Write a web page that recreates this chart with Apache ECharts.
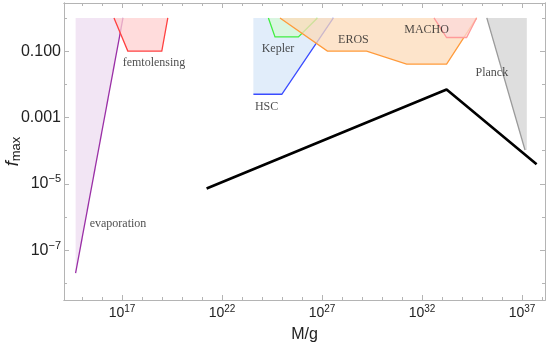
<!DOCTYPE html>
<html>
<head>
<meta charset="utf-8">
<script src="https://cdn.jsdelivr.net/npm/echarts@6/dist/echarts.min.js"></script>
<style>
  html, body { margin: 0; padding: 0; background: #fff; }
  #chart { width: 549px; height: 344px; }
</style>
</head>
<body>
<div id="chart"></div>
<script>
// all values are log10: mass in grams, f_max
const xMin = 14.1
const xMax = 38.15
const yMin = -8.5
const yMax = 0.45

const xMajorTicks = [17, 22, 27, 32, 37]
const xMinorTicks = [15, 16, 18, 19, 20, 21, 23, 24, 25, 26, 28, 29, 30, 31, 33, 34, 35, 36, 38]
const yMajorTicks = [-1, -3, -5, -7]
const yMinorTicks = [0, -2, -4, -6, -8]
const yTickLabels = ['0.100', '0.001', '10^−5', '10^−7']

// constraint regions: vertices (first `outline` points are stroked)
const evapM = [14.68, 17.05, 14.68]
const evapF = [-7.69, 0, 0]
const femtoM = [16.6, 17.29, 18.99, 19.29]
const femtoF = [0, -1, -1, 0]
const hscM = [23.57, 24.99, 27.57, 23.57]
const hscF = [-2.3, -2.3, 0, 0]
const keplerM = [24.32, 24.65, 25.82, 26.77]
const keplerF = [0, -0.57, -0.57, 0]
const erosM = [24.9, 27.27, 29.23, 31.23, 33.23, 34.73]
const erosF = [0, -1, -1, -1.39, -1.39, 0]
const machoM = [32.6, 33.23, 34.23, 34.73]
const machoF = [0, -0.59, -0.59, 0]
const planckM = [35.24, 37.15, 37.24, 37.24]
const planckF = [0, -3.98, -3.98, 0]

// black bound
const boundM = [21.23, 33.23, 37.73]
const boundF = [-5.14, -2.155, -4.41]

const labelNames = ['femtolensing', 'evaporation', 'Kepler', 'HSC', 'EROS', 'MACHO', 'Planck']
const labelM = [18.6, 16.8, 24.8, 24.23, 28.57, 32.23, 35.49]
const labelF = [-1.36, -6.22, -0.94, -2.69, -0.65, -0.37, -1.65]

const frameColor = '#b4b4b4'
const sans = '"Liberation Sans", Arial, sans-serif'
const serif = '"Liberation Serif", "Times New Roman", serif'

function region(ms, fs, outline, fill, stroke) {
  return {
    type: 'custom',
    data: [[ms[0], fs[0]]],
    silent: true,
    renderItem: (params, api) => {
      const pts = ms.map((m, i) => api.coord([m, fs[i]]))
      return {
        type: 'group',
        children: [
          { type: 'polygon', shape: { points: pts }, style: { fill: fill } },
          {
            type: 'polyline',
            shape: { points: pts.slice(0, outline) },
            style: { stroke: stroke, lineWidth: 1.3, fill: null }
          }
        ]
      }
    }
  }
}

function xAxis(pos, ticks, len, labels) {
  return {
    type: 'value', position: pos, min: xMin, max: xMax,
    splitLine: { show: false },
    axisLine: { show: true, onZero: false, lineStyle: { color: frameColor, width: 1 } },
    axisTick: { show: true, inside: true, length: len, customValues: ticks, lineStyle: { color: frameColor } },
    axisLabel: labels ? {
      show: true, customValues: ticks, margin: 4,
      formatter: v => '{b|10}{s|' + Math.round(v) + '}',
      rich: {
        b: { fontSize: 14, fontFamily: sans, color: '#222' },
        s: { fontSize: 10, fontFamily: sans, color: '#222', padding: [0, 0, 8, 0] }
      }
    } : { show: false },
    name: labels ? 'M/g' : '',
    nameLocation: 'middle', nameGap: 27, nameMoveOverlap: false,
    nameTextStyle: { fontSize: 16, fontFamily: sans, color: '#222' }
  }
}

function yAxis(pos, ticks, len, labels) {
  return {
    type: 'value', position: pos, min: yMin, max: yMax,
    splitLine: { show: false },
    axisLine: { show: true, onZero: false, lineStyle: { color: frameColor, width: 1 } },
    axisTick: { show: true, inside: true, length: len, customValues: ticks, lineStyle: { color: frameColor } },
    axisLabel: labels ? {
      show: true, customValues: ticks, margin: 3,
      formatter: v => {
        const t = yTickLabels[yMajorTicks.indexOf(Math.round(v))] || ''
        const p = t.split('^')
        return p.length > 1 ? '{b|' + p[0] + '}{s|' + p[1] + '}' : '{b|' + t + '}'
      },
      rich: {
        b: { fontSize: 16, fontFamily: sans, color: '#222' },
        s: { fontSize: 11, fontFamily: sans, color: '#222', padding: [0, 0, 9, 0] }
      }
    } : { show: false },
    name: labels ? '{i|f}{m|max}' : '',
    nameLocation: 'middle', nameGap: 41, nameRotate: 90, nameMoveOverlap: false,
    nameTextStyle: {
      rich: {
        i: { fontSize: 18, fontStyle: 'italic', fontFamily: sans, color: '#222' },
        m: { fontSize: 13, fontFamily: sans, color: '#222', padding: [7, 0, 0, 0] }
      }
    }
  }
}

const chart = echarts.init(document.getElementById('chart'))
chart.setOption({
  animation: false,
  grid: { left: 64, right: 4, top: 3, bottom: 44, containLabel: false, outerBoundsMode: 'none' },
  xAxis: [
    xAxis('bottom', xMajorTicks, 5, true),
    xAxis('bottom', xMinorTicks, 3, false),
    xAxis('top', xMajorTicks, 5, false),
    xAxis('top', xMinorTicks, 3, false)
  ],
  yAxis: [
    yAxis('left', yMajorTicks, 5, true),
    yAxis('left', yMinorTicks, 3, false),
    yAxis('right', yMajorTicks, 5, false),
    yAxis('right', yMinorTicks, 3, false)
  ],
  series: [
    region(evapM, evapF, 2, 'rgba(237,220,240,0.75)', '#9a2fa6'),
    region(femtoM, femtoF, 4, 'rgba(255,208,208,0.75)', '#ff4040'),
    region(hscM, hscF, 3, 'rgba(215,231,248,0.75)', '#3a4cff'),
    region(keplerM, keplerF, 4, 'rgba(215,250,215,0.75)', '#40ee40'),
    region(erosM, erosF, 6, 'rgba(252,219,186,0.75)', '#ff9a3a'),
    region(machoM, machoF, 4, 'rgba(252,218,218,0.75)', '#ff9a9a'),
    region(planckM, planckF, 2, 'rgba(222,222,222,1)', '#9a9a9a'),
    {
      type: 'line',
      data: boundM.map((m, i) => [m, boundF[i]]),
      symbol: 'none',
      lineStyle: { color: '#000', width: 2.6 },
      silent: true
    },
    {
      type: 'scatter',
      symbolSize: 0,
      data: labelM.map((m, i) => ({ value: [m, labelF[i]], name: labelNames[i] })),
      label: {
        show: true, position: 'inside', formatter: p => p.name,
        fontSize: 12, fontFamily: serif, color: '#222'
      },
      silent: true
    }
  ]
})
</script>
</body>
</html>
